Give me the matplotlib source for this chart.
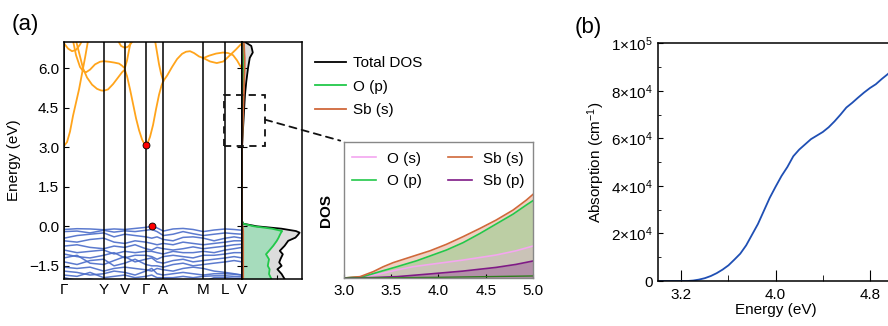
import matplotlib
matplotlib.use("Agg")
import matplotlib.pyplot as plt
from matplotlib.patches import Rectangle, ConnectionPatch
from matplotlib.ticker import FixedLocator

plt.rcParams["font.family"] = ["Liberation Sans", "DejaVu Sans"]
plt.rcParams["mathtext.fontset"] = "custom"
plt.rcParams["mathtext.rm"] = "Liberation Sans"
plt.rcParams["mathtext.default"] = "regular"
plt.rcParams["font.size"] = 10.5

# ---------------- band structure ----------------
kpath_pos = [0, 39.7, 60.7, 81.7, 99.3, 139.3, 161.3, 178.0]
kpath_lab = ["Γ", "Y", "V", "Γ", "A", "M", "L", "V"]

# conduction bands: (k, E) pieces
cb_pieces = [
    ([0, 3, 6, 9, 12, 15, 18, 21, 24],
     [3.05, 3.2, 3.6, 4.2, 4.7, 5.2, 5.8, 6.4, 7.05]),
    ([12, 15, 19, 23, 28, 33, 37, 39.7, 44, 49, 54, 58, 60.7, 63, 66, 69, 72, 75, 78, 80, 81.7,
      83.5, 86, 89, 92, 95, 97.5, 99.3, 103, 108, 113, 118, 122, 126, 130, 135, 139.3,
      145, 152, 159, 164, 169, 173, 176, 178],
     [7.05, 6.6, 6.0, 5.65, 5.38, 5.22, 5.16, 5.15, 5.2, 5.4, 5.65, 5.85, 5.95, 5.7, 5.2, 4.65, 4.1, 3.65, 3.3, 3.15, 3.08,
      3.15, 3.4, 3.85, 4.45, 5.0, 5.35, 5.52, 5.72, 6.05, 6.35, 6.55, 6.63, 6.65, 6.58, 6.45, 6.39,
      6.48, 6.56, 6.6, 6.58, 6.5, 6.3, 6.1, 6.0]),
    ([139.3, 146, 152.7, 159.3, 166, 172, 176, 178],
     [6.39, 6.26, 6.2, 6.26, 6.5, 6.72, 6.88, 6.95]),
    ([9, 12, 16, 19, 22, 26, 31, 36, 39.7, 45, 50, 55, 58, 60.7, 63, 65, 67],
     [7.05, 6.5, 6.05, 5.9, 5.85, 5.95, 6.15, 6.25, 6.27, 6.25, 6.22, 6.18, 6.1, 6.0, 6.3, 6.7, 7.05]),
    ([0, 4, 8, 12, 16, 18],
     [6.95, 6.75, 6.65, 6.7, 6.9, 7.05]),
    ([54, 57, 60.7, 64, 67, 69],
     [7.05, 6.85, 6.78, 6.82, 6.95, 7.05]),
    ([91, 93, 95, 97, 99.3],
     [7.05, 6.6, 6.15, 5.8, 5.52]),
]

vb_k = [0, 13, 26, 39.7, 50, 60.7, 71, 81.7, 87.7, 93, 99.3, 109, 119, 129, 139.3, 150, 161.3, 170, 178]
vb_bands = [
    [-0.12, -0.09, -0.10, -0.13, -0.10, -0.12, -0.08, -0.04, 0.00, -0.06, -0.18, -0.10, -0.08, -0.12, -0.20, -0.14, -0.10, -0.12, -0.15],
    [-0.20, -0.18, -0.25, -0.15, -0.22, -0.17, -0.20, -0.15, -0.12, -0.20, -0.35, -0.30, -0.20, -0.28, -0.35, -0.30, -0.25, -0.28, -0.30],
    [-0.45, -0.35, -0.30, -0.25, -0.40, -0.30, -0.35, -0.40, -0.45, -0.40, -0.50, -0.55, -0.42, -0.40, -0.45, -0.55, -0.45, -0.40, -0.45],
    [-0.55, -0.60, -0.50, -0.45, -0.60, -0.65, -0.55, -0.60, -0.65, -0.70, -0.65, -0.70, -0.60, -0.65, -0.70, -0.65, -0.60, -0.55, -0.55],
    [-0.75, -0.70, -0.80, -0.85, -0.75, -0.80, -0.70, -0.85, -0.90, -0.80, -0.85, -0.90, -0.85, -0.78, -0.85, -0.80, -0.75, -0.70, -0.68],
    [-0.90, -1.00, -0.95, -0.90, -1.05, -0.95, -1.00, -0.95, -0.95, -1.00, -1.05, -0.95, -1.00, -1.00, -0.95, -1.00, -0.90, -0.85, -0.80],
    [-1.05, -1.15, -1.20, -1.10, -1.00, -1.20, -1.10, -1.10, -1.15, -1.25, -1.15, -1.10, -1.15, -1.20, -1.10, -1.10, -1.05, -1.00, -1.00],
    [-1.20, -1.10, -1.40, -1.45, -1.30, -1.15, -1.35, -1.25, -1.20, -1.35, -1.40, -1.30, -1.25, -1.35, -1.30, -1.25, -1.20, -1.15, -1.20],
    [-1.35, -1.45, -1.30, -1.25, -1.50, -1.40, -1.25, -1.45, -1.50, -1.50, -1.55, -1.45, -1.40, -1.50, -1.45, -1.40, -1.35, -1.30, -1.35],
    [-1.55, -1.60, -1.55, -1.70, -1.60, -1.55, -1.60, -1.65, -1.70, -1.60, -1.65, -1.70, -1.60, -1.55, -1.60, -1.70, -1.75, -1.80, -1.85],
    [-1.70, -1.75, -1.85, -1.80, -1.70, -1.75, -1.85, -1.70, -1.60, -1.80, -1.85, -1.80, -1.75, -1.80, -1.85, -1.80, -1.80, -1.82, -1.85],
    [-1.85, -1.90, -1.75, -1.95, -1.90, -1.85, -1.95, -1.90, -1.85, -1.95, -1.95, -1.95, -1.90, -1.95, -1.90, -1.88, -1.88, -1.90, -1.92],
    [-1.95, -2.05, -2.00, -2.10, -2.05, -2.00, -2.10, -2.05, -2.00, -2.10, -2.10, -2.05, -2.10, -2.05, -2.10, -1.95, -1.95, -1.97, -1.98],
]

cbm_k, cbm_e = 81.7, 3.07
vbm_k, vbm_e = 87.7, 0.0

# ---------------- projected DOS ----------------
dos_energy = [-2.0, -1.81, -1.63, -1.5, -1.37, -1.25, -1.06, -0.93, -0.74, -0.55, -0.43, -0.33, -0.24, -0.18,
              -0.09, 0.0, 0.1, 0.2, 3.0, 3.1, 3.5, 4.0, 4.5, 5.0, 5.5, 6.0, 6.4, 6.6, 6.85, 7.0]
dos_total = [0.71, 0.66, 0.59, 0.66, 0.62, 0.64, 0.68, 0.63, 0.71, 0.77, 0.89, 0.93, 0.96, 0.90,
             0.66, 0.25, 0.02, 0.0, 0.0, 0.003, 0.012, 0.025, 0.037, 0.05, 0.072, 0.10, 0.13, 0.18, 0.155, 0.05]
dos_op = [0.49, 0.45, 0.46, 0.43, 0.44, 0.45, 0.40, 0.45, 0.52, 0.58, 0.61, 0.63, 0.65, 0.67,
          0.50, 0.20, 0.02, 0.0, 0.0, 0.001, 0.004, 0.008, 0.012, 0.016, 0.02, 0.025, 0.03, 0.035, 0.03, 0.02]
dos_sbs = [0.02, 0.02, 0.02, 0.02, 0.02, 0.02, 0.02, 0.02, 0.02, 0.02, 0.02, 0.02, 0.02, 0.02,
           0.015, 0.01, 0.0, 0.0, 0.0, 0.003, 0.008, 0.015, 0.022, 0.03, 0.037, 0.045, 0.045, 0.04, 0.035, 0.03]

# ---------------- inset (3-5 eV) ----------------
in_sbs_e = [3.0, 3.17, 3.31, 3.415, 3.52, 3.627, 3.77, 3.91, 4.085, 4.26, 4.44, 4.61, 4.79, 4.93, 5.0]
in_sbs = [0.0, 0.01, 0.047, 0.083, 0.113, 0.137, 0.169, 0.2, 0.248, 0.304, 0.365, 0.426, 0.5, 0.573, 0.615]
in_op_e = [3.0, 3.2, 3.38, 3.56, 3.77, 3.91, 4.085, 4.26, 4.44, 4.61, 4.79, 4.93, 5.0]
in_op = [0.0, 0.01, 0.047, 0.083, 0.127, 0.162, 0.206, 0.26, 0.328, 0.397, 0.47, 0.537, 0.569]
in_os_e = [3.0, 3.2, 3.38, 3.56, 3.73, 3.91, 4.26, 4.61, 4.82, 5.0]
in_os = [0.0, 0.008, 0.03, 0.059, 0.083, 0.1, 0.132, 0.169, 0.2, 0.235]
in_sbp_e = [3.0, 3.3, 3.56, 3.91, 4.26, 4.61, 4.82, 5.0]
in_sbp = [0.0, 0.003, 0.01, 0.03, 0.051, 0.078, 0.1, 0.125]
in_other_e = [3.0, 3.5, 4.0, 4.5, 5.0]
in_other = [0.0, 0.002, 0.005, 0.01, 0.015]

# ---------------- absorption ----------------
abs_energy = [3.0, 3.2, 3.25, 3.30, 3.35, 3.40, 3.45, 3.50, 3.55, 3.60, 3.65, 3.70, 3.75, 3.80, 3.85, 3.90,
              3.95, 4.00, 4.05, 4.10, 4.15, 4.20, 4.25, 4.30, 4.35, 4.40, 4.45, 4.50, 4.55, 4.60, 4.65,
              4.70, 4.75, 4.80, 4.85, 4.90, 4.95, 5.0]
abs_coef = [0, 0, 0, 200, 600, 1200, 2100, 3300, 4800, 6600, 9000, 11500, 15000, 19500, 24000, 29500,
            35000, 39700, 44200, 48000, 52500, 55300, 57500, 59700, 61200, 62700, 64700, 67200, 70000, 73000, 75000,
            77200, 79300, 81200, 82800, 85000, 87000, 89300]
abs_yticks = [0, 20000, 40000, 60000, 80000, 100000]
abs_ylabels = ["0", "2×10$^{4}$", "4×10$^{4}$", "6×10$^{4}$", "8×10$^{4}$", "1×10$^{5}$"]

c_orange = "#ffa41b"
c_blue = "#4a6cc9"
c_green = "#22c84a"
c_sbs = "#d0683a"
c_pink = "#f4a6f0"
c_purple = "#7f1a86"

fig = plt.figure(figsize=(8.88, 3.26), dpi=100)

ax_b = fig.add_axes([0.0721, 0.1442, 0.2005, 0.727])
for k in kpath_pos:
    ax_b.axvline(k, color="black", lw=1.1, zorder=3)
for kk, ee in cb_pieces:
    ax_b.plot(kk, ee, color=c_orange, lw=1.3, zorder=2)
for band in vb_bands:
    ax_b.plot(vb_k, band, color=c_blue, lw=1.1, alpha=0.9, zorder=2)
ax_b.plot([cbm_k, vbm_k], [cbm_e, vbm_e], "o", color="red", mec="black", mew=0.6, ms=5, zorder=5)
ax_b.set_xlim(0, 178)
ax_b.set_ylim(-2.0, 7.0)
ax_b.set_xticks(kpath_pos)
ax_b.set_xticklabels(kpath_lab)
ax_b.tick_params(axis="x", length=0, pad=3, labelsize=11)
ax_b.set_yticks([-1.5, 0.0, 1.5, 3.0, 4.5, 6.0])
ax_b.set_yticklabels(["\u22121.5", "0.0", "1.5", "3.0", "4.5", "6.0"])
ax_b.tick_params(axis="y", direction="in", length=3.5, labelsize=11)
ax_b.set_ylabel("Energy (eV)", fontsize=11, labelpad=6)
for s in ax_b.spines.values():
    s.set_linewidth(1.1)

ax_d = fig.add_axes([0.2725, 0.1442, 0.0676, 0.727])
ax_d.fill_betweenx(dos_energy, 0, dos_total, color="#dcdcdc", lw=0)
ax_d.fill_betweenx(dos_energy, 0, dos_op, color="#a6dcbc", lw=0)
ax_d.fill_betweenx(dos_energy, 0, dos_sbs, color=c_sbs, alpha=0.35, lw=0)
ax_d.plot(dos_total, dos_energy, color="black", lw=1.3, label="Total DOS")
ax_d.plot(dos_op, dos_energy, color=c_green, lw=1.3, label="O (p)")
ax_d.plot(dos_sbs, dos_energy, color=c_sbs, lw=1.3, label="Sb (s)")
ax_d.set_xlim(0, 1.0)
ax_d.set_ylim(-2.0, 7.0)
ax_d.set_yticks([-1.5, 0.0, 1.5, 3.0, 4.5, 6.0])
ax_d.tick_params(axis="y", direction="inout", length=7.5, labelleft=False)
ax_d.set_xticks([0.58])
ax_d.tick_params(axis="x", direction="in", length=3, labelbottom=False)
for s in ax_d.spines.values():
    s.set_linewidth(1.1)

fig.legend(*ax_d.get_legend_handles_labels(), loc="upper left", bbox_to_anchor=(0.355, 0.828),
           frameon=False, fontsize=11, handlelength=2.0, handletextpad=0.45, labelspacing=0.62,
           borderpad=0, borderaxespad=0)

# zoom box and connector
rect = Rectangle((160, 3.05), 41, 1.95, transform=ax_b.transData, fill=False, ec="#111111",
                 lw=1.3, ls=(0, (4, 3)), zorder=10)
fig.add_artist(rect)

ax_i = fig.add_axes([0.3874, 0.1472, 0.2128, 0.4172])
ax_i.fill_between(in_sbs_e, 0, in_sbs, color=c_sbs, alpha=0.3, lw=0)
ax_i.fill_between(in_op_e, 0, in_op, color=c_green, alpha=0.25, lw=0)
ax_i.fill_between(in_os_e, 0, in_os, color=c_pink, alpha=0.25, lw=0)
ax_i.fill_between(in_sbp_e, 0, in_sbp, color=c_purple, alpha=0.3, lw=0)
ax_i.plot(in_os_e, in_os, color=c_pink, lw=1.2, label="O (s)")
ax_i.plot(in_op_e, in_op, color=c_green, lw=1.2, label="O (p)")
ax_i.plot(in_sbs_e, in_sbs, color=c_sbs, lw=1.2, label="Sb (s)")
ax_i.plot(in_sbp_e, in_sbp, color=c_purple, lw=1.2, label="Sb (p)")
ax_i.plot(in_other_e, in_other, color="#2f7d1e", lw=1.0)
ax_i.set_xlim(3.0, 5.0)
ax_i.set_ylim(0, 1.0)
ax_i.set_xticks([3.0, 3.5, 4.0, 4.5, 5.0])
ax_i.set_yticks([])
ax_i.tick_params(axis="x", direction="in", length=3, labelsize=11, pad=4)
ax_i.set_ylabel("DOS", fontsize=11, fontweight="bold", labelpad=8)
for s in ax_i.spines.values():
    s.set_color("#888888")
    s.set_linewidth(1.0)
ax_i.legend(loc="upper left", bbox_to_anchor=(0.04, 0.93), ncol=2, frameon=False, fontsize=11,
            handlelength=1.6, handletextpad=0.75, labelspacing=0.55, columnspacing=1.65,
            borderpad=0, borderaxespad=0)

con = ConnectionPatch(xyA=(201, 4.05), coordsA=ax_b.transData, xyB=(-0.02, 1.01), coordsB=ax_i.transAxes,
                      color="#111111", lw=1.3, ls=(0, (4, 3)), zorder=10)
fig.add_artist(con)

# ---------------- panel (b) ----------------
ax_a = fig.add_axes([0.7407, 0.138, 0.2655, 0.729])
ax_a.plot(abs_energy, abs_coef, color="#1f4fb4", lw=1.3)
ax_a.set_xlim(3.0, 5.0)
ax_a.set_ylim(0, 1e5)
ax_a.xaxis.set_major_locator(FixedLocator([3.2, 4.0, 4.8]))
ax_a.xaxis.set_minor_locator(FixedLocator([3.6, 4.4]))
ax_a.set_yticks(abs_yticks)
ax_a.yaxis.set_minor_locator(FixedLocator([10000, 30000, 50000, 70000, 90000]))
ax_a.set_yticklabels(abs_ylabels)
ax_a.set_xticklabels(["3.2", "4.0", "4.8"])
ax_a.tick_params(axis="x", which="major", direction="in", length=8, labelsize=11, pad=5)
ax_a.tick_params(axis="x", which="minor", direction="in", length=4.5)
ax_a.tick_params(axis="y", which="major", direction="in", length=3.5, labelsize=11)
ax_a.tick_params(axis="y", which="minor", direction="in", length=2.5)
ax_a.set_xlabel("Energy (eV)", fontsize=11, labelpad=1)
ax_a.set_ylabel("Absorption (cm$^{-1}$)", fontsize=11, labelpad=3)
for s in ax_a.spines.values():
    s.set_linewidth(1.1)

fig.text(0.013, 0.925, "(a)", fontsize=16, va="center")
fig.text(0.647, 0.917, "(b)", fontsize=16, va="center")

fig.savefig("out.png", dpi=100)
